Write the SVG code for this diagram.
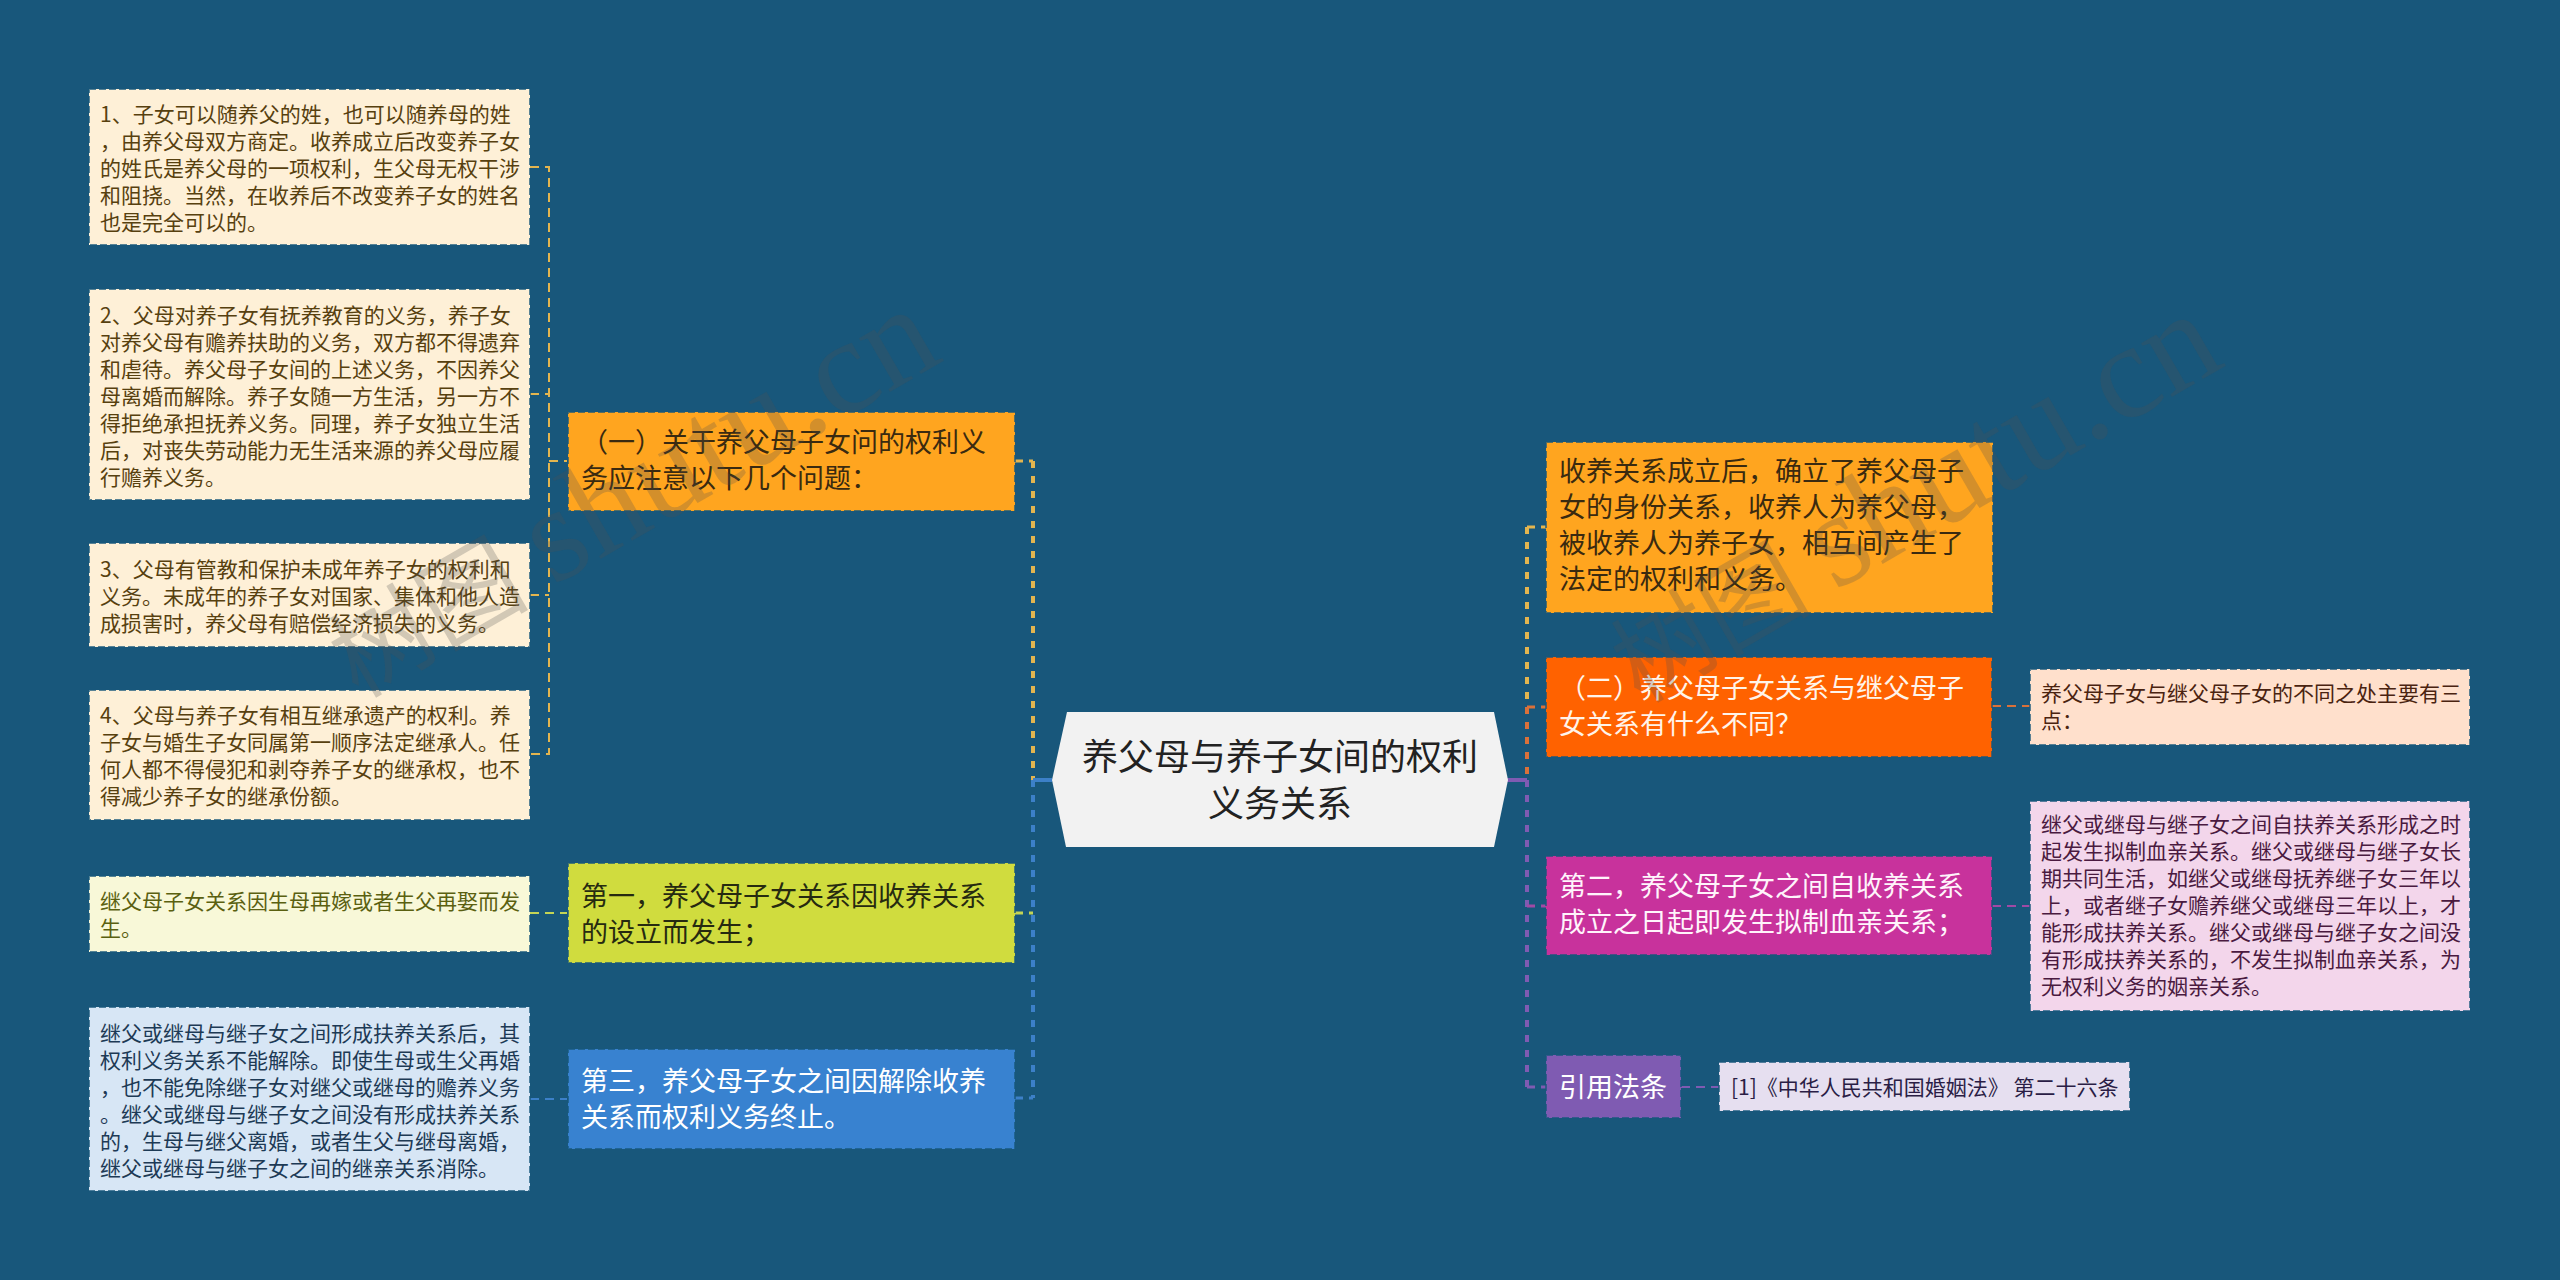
<svg xmlns="http://www.w3.org/2000/svg" width="2560" height="1280" viewBox="0 0 2560 1280">
<style>
text{font-family:"Noto Sans CJK SC","Liberation Sans",sans-serif}
.box{stroke:#18577B;stroke-opacity:.72;stroke-width:2;stroke-dasharray:7 3}
.leaf{font-size:21px}
.main{font-size:27px}
.title{font-size:36px;fill:#222;text-anchor:middle}
.c{fill:none}
.thin{stroke-width:2;stroke-dasharray:9 6}
.mid{stroke-width:3;stroke-dasharray:8 6}
.trunk{stroke-width:4;stroke-dasharray:7 8}
.solid{stroke-width:4}
.y{stroke:#E3B54F}.g{stroke:#C3D455}.b{stroke:#3C80C8}.o{stroke:#D9713A}.m{stroke:#A04AA5}.p{stroke:#7F5BB2}
.wm{fill:#505050;fill-opacity:.25;font-family:"Liberation Serif","Noto Sans CJK SC",serif}
</style>
<rect width="2560" height="1280" fill="#18577B"/>
<g id="connectors">
<path class="c thin y" d="M530 167H549V754H530"/>
<path class="c thin y" d="M530 394H549"/>
<path class="c thin y" d="M530 595H549"/>
<path class="c thin y" d="M549 461H567"/>
<path class="c thin g" d="M530 913H567"/>
<path class="c thin b" d="M530 1099H567"/>
<path class="c mid y" d="M1015 461H1033"/>
<path class="c trunk y" d="M1033 461V780"/>
<path class="c mid g" d="M1015 913H1033"/>
<path class="c trunk b" d="M1033 780V1098"/>
<path class="c mid b" d="M1015 1098H1033"/>
<path class="c solid b" d="M1033 780H1052"/>
<path class="c solid p" d="M1507 780H1527"/>
<path class="c trunk y" d="M1527 527V707"/>
<path class="c trunk o" d="M1527 707V780"/>
<path class="c trunk p" d="M1527 780V1087"/>
<path class="c mid y" d="M1527 527H1546"/>
<path class="c mid o" d="M1527 707H1546"/>
<path class="c mid m" d="M1527 906H1546"/>
<path class="c mid p" d="M1527 1087H1546"/>
<path class="c thin o" d="M1992 706H2030"/>
<path class="c thin m" d="M1992 906H2030"/>
<path class="c thin p" d="M1681 1087H1719"/>
</g>
<g id="center">
<polygon points="1052,780 1067,712 1494,712 1508,780 1494,847 1066,847" fill="#F2F2F2"/>
<text class="title" x="1280" y="770">养父母与养子女间的权利</text>
<text class="title" x="1280" y="817">义务关系</text>
</g>
<g id="n1" fill="#FEF0D7">
<rect class="box" x="89" y="89" width="441" height="156"/>
<g class="leaf" fill="#57400F">
<text x="100" y="122">1、子女可以随养父的姓，也可以随养母的姓</text>
<text x="100" y="149">，由养父母双方商定。收养成立后改变养子女</text>
<text x="100" y="176">的姓氏是养父母的一项权利，生父母无权干涉</text>
<text x="100" y="203">和阻挠。当然，在收养后不改变养子女的姓名</text>
<text x="100" y="230">也是完全可以的。</text>
</g></g>
<g id="n2" fill="#FEF0D7">
<rect class="box" x="89" y="289" width="441" height="211"/>
<g class="leaf" fill="#57400F">
<text x="100" y="323">2、父母对养子女有抚养教育的义务，养子女</text>
<text x="100" y="350">对养父母有赡养扶助的义务，双方都不得遗弃</text>
<text x="100" y="377">和虐待。养父母子女间的上述义务，不因养父</text>
<text x="100" y="404">母离婚而解除。养子女随一方生活，另一方不</text>
<text x="100" y="431">得拒绝承担抚养义务。同理，养子女独立生活</text>
<text x="100" y="458">后，对丧失劳动能力无生活来源的养父母应履</text>
<text x="100" y="485">行赡养义务。</text>
</g></g>
<g id="n3" fill="#FEF0D7">
<rect class="box" x="89" y="543" width="441" height="104"/>
<g class="leaf" fill="#57400F">
<text x="100" y="577">3、父母有管教和保护未成年养子女的权利和</text>
<text x="100" y="604">义务。未成年的养子女对国家、集体和他人造</text>
<text x="100" y="631">成损害时，养父母有赔偿经济损失的义务。</text>
</g></g>
<g id="n4" fill="#FEF0D7">
<rect class="box" x="89" y="690" width="441" height="130"/>
<g class="leaf" fill="#57400F">
<text x="100" y="723">4、父母与养子女有相互继承遗产的权利。养</text>
<text x="100" y="750">子女与婚生子女同属第一顺序法定继承人。任</text>
<text x="100" y="777">何人都不得侵犯和剥夺养子女的继承权，也不</text>
<text x="100" y="804">得减少养子女的继承份额。</text>
</g></g>
<g id="n5" fill="#F8F8D8">
<rect class="box" x="89" y="876" width="441" height="76"/>
<g class="leaf" fill="#5A6010">
<text x="100" y="909">继父母子女关系因生母再嫁或者生父再娶而发</text>
<text x="100" y="936">生。</text>
</g></g>
<g id="n6" fill="#D7E6F5">
<rect class="box" x="89" y="1007" width="441" height="184"/>
<g class="leaf" fill="#1D3A55">
<text x="100" y="1041">继父或继母与继子女之间形成扶养关系后，其</text>
<text x="100" y="1068">权利义务关系不能解除。即使生母或生父再婚</text>
<text x="100" y="1095">，也不能免除继子女对继父或继母的赡养义务</text>
<text x="100" y="1122">。继父或继母与继子女之间没有形成扶养关系</text>
<text x="100" y="1149">的，生母与继父离婚，或者生父与继母离婚，</text>
<text x="100" y="1176">继父或继母与继子女之间的继亲关系消除。</text>
</g></g>
<g id="m1" fill="#FFA51F">
<rect class="box" x="568" y="412" width="447" height="99"/>
<g class="main" fill="#3A2A10">
<text x="581" y="452">（一）关于养父母子女问的权利义</text>
<text x="581" y="488">务应注意以下几个问题：</text>
</g></g>
<g id="m2" fill="#D0DC3E">
<rect class="box" x="568" y="863" width="447" height="100"/>
<g class="main" fill="#262A10">
<text x="581" y="906">第一，养父母子女关系因收养关系</text>
<text x="581" y="942">的设立而发生；</text>
</g></g>
<g id="m3" fill="#3882D0">
<rect class="box" x="568" y="1049" width="447" height="100"/>
<g class="main" fill="#FFFFFF">
<text x="581" y="1091">第三，养父母子女之间因解除收养</text>
<text x="581" y="1127">关系而权利义务终止。</text>
</g></g>
<g id="r1" fill="#FFA51F">
<rect class="box" x="1546" y="442" width="447" height="171"/>
<g class="main" fill="#3A2A10">
<text x="1559" y="481">收养关系成立后，确立了养父母子</text>
<text x="1559" y="517">女的身份关系，收养人为养父母，</text>
<text x="1559" y="553">被收养人为养子女，相互间产生了</text>
<text x="1559" y="589">法定的权利和义务。</text>
</g></g>
<g id="r2" fill="#FF6200">
<rect class="box" x="1546" y="657" width="446" height="100"/>
<g class="main" fill="#FFF4EA">
<text x="1559" y="698">（二）养父母子女关系与继父母子</text>
<text x="1559" y="734">女关系有什么不同？</text>
</g></g>
<g id="r2a" fill="#FFE0CC">
<rect class="box" x="2030" y="669" width="440" height="76"/>
<g class="leaf" fill="#4A2310">
<text x="2041" y="701">养父母子女与继父母子女的不同之处主要有三</text>
<text x="2041" y="728">点：</text>
</g></g>
<g id="r3" fill="#C8329C">
<rect class="box" x="1546" y="856" width="446" height="99"/>
<g class="main" fill="#FFF4FB">
<text x="1559" y="896">第二，养父母子女之间自收养关系</text>
<text x="1559" y="932">成立之日起即发生拟制血亲关系；</text>
</g></g>
<g id="r3a" fill="#F3D6EB">
<rect class="box" x="2030" y="801" width="440" height="210"/>
<g class="leaf" fill="#4A1A40">
<text x="2041" y="832">继父或继母与继子女之间自扶养关系形成之时</text>
<text x="2041" y="859">起发生拟制血亲关系。继父或继母与继子女长</text>
<text x="2041" y="886">期共同生活，如继父或继母抚养继子女三年以</text>
<text x="2041" y="913">上，或者继子女赡养继父或继母三年以上，才</text>
<text x="2041" y="940">能形成扶养关系。继父或继母与继子女之间没</text>
<text x="2041" y="967">有形成扶养关系的，不发生拟制血亲关系，为</text>
<text x="2041" y="994">无权利义务的姻亲关系。</text>
</g></g>
<g id="r4" fill="#7F5BB2">
<rect class="box" x="1546" y="1055" width="135" height="63"/>
<text class="main" x="1559" y="1097" fill="#FFFFFF">引用法条</text>
</g>
<g id="r4a" fill="#E6DFF0">
<rect class="box" x="1719" y="1062" width="411" height="49"/>
<text class="leaf" x="1731" y="1095" fill="#2A1D45">[1]《中华人民共和国婚姻法》 第二十六条</text>
</g>
<g id="watermark">
<text class="wm" transform="translate(358 699) rotate(-30)"><tspan font-size="100">树图 </tspan><tspan font-size="135">shutu.cn</tspan></text>
<text class="wm" transform="translate(1640 704) rotate(-30)"><tspan font-size="100">树图 </tspan><tspan font-size="135">shutu.cn</tspan></text>
</g>
</svg>
